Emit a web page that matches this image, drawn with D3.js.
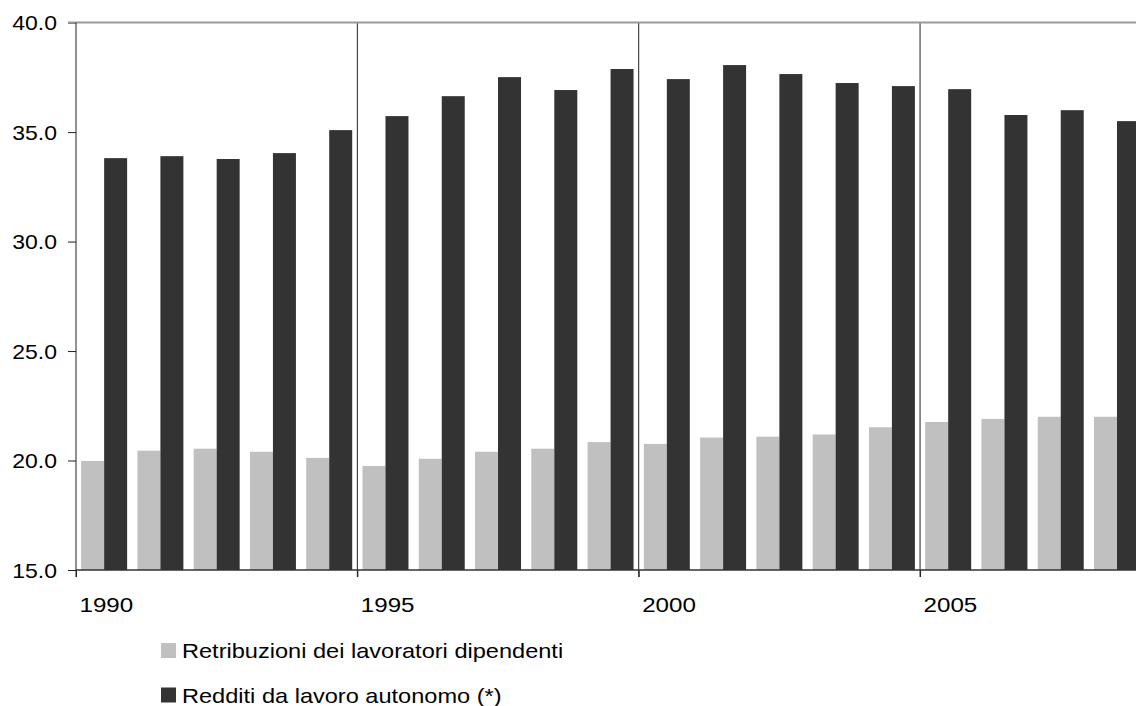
<!DOCTYPE html>
<html>
<head>
<meta charset="utf-8">
<script src="https://cdn.jsdelivr.net/npm/d3@7"></script>
<style>
  html, body { margin: 0; padding: 0; background: #fff; }
  svg { display: block; }
  text { font-family: "Liberation Sans", Arial, sans-serif; fill: #000; }
</style>
</head>
<body>
<svg id="chart" width="1136" height="706"></svg>
<script>
const years = ['1990','1991','1992','1993','1994','1995','1996','1997','1998','1999',
               '2000','2001','2002','2003','2004','2005','2006','2007','2008'];
const seriesNames = ['Retribuzioni dei lavoratori dipendenti', 'Redditi da lavoro autonomo (*)'];
const seriesColors = ['#c0c0c0', '#333333'];
const retribuzioni = [19.98, 20.45, 20.54, 20.40, 20.12, 19.75, 20.08, 20.40, 20.54, 20.84,
                      20.76, 21.05, 21.09, 21.19, 21.52, 21.76, 21.90, 22.00, 22.00];
const redditi = [33.81, 33.90, 33.77, 34.04, 35.09, 35.73, 36.64, 37.51, 36.92, 37.88,
                 37.42, 38.06, 37.65, 37.24, 37.10, 36.96, 35.78, 36.00, 35.50];
const yTicks = [15, 20, 25, 30, 35, 40];
const xTickYears = [1990, 1995, 2000, 2005];

(function () {
const svg = d3.select('#chart');
const mLeft = 76, mTop = 22.6, mBottom = 570;
const step = 56.27;
const mRight = mLeft + years.length * step;
const SX = 1.15;

const y = d3.scaleLinear().domain([15, 40]).range([mBottom, mTop]);
const xYear = d3.scaleLinear().domain([1990, 1990 + years.length]).range([mLeft, mRight]);
const x0 = d3.scaleBand().domain(years).range([mLeft, mRight]).paddingInner(0.183).paddingOuter(0.0915);
const x1 = d3.scaleBand().domain([0, 1]).range([0, x0.bandwidth()]);

const data = years.map((yr, i) => ({ year: yr, values: [retribuzioni[i], redditi[i]] }));

// bars
const groups = svg.append('g').selectAll('g').data(data).join('g')
  .attr('transform', d => `translate(${x0(d.year)},0)`);
groups.selectAll('rect').data(d => d.values.map((v, k) => ({ v, k }))).join('rect')
  .attr('x', d => x1(d.k))
  .attr('width', x1.bandwidth())
  .attr('y', d => y(d.v))
  .attr('height', d => y(15) - y(d.v))
  .attr('fill', d => seriesColors[d.k]);

// vertical separators at 1995, 2000, 2005
svg.append('g').selectAll('line').data(xTickYears.slice(1)).join('line')
  .attr('x1', d => xYear(d)).attr('x2', d => xYear(d))
  .attr('y1', y(40)).attr('y2', mBottom + 7)
  .attr('stroke', '#222').attr('stroke-width', 1);

// y axis
const yAxis = svg.append('g').attr('transform', `translate(${mLeft},0)`)
  .call(d3.axisLeft(y).tickValues(yTicks).tickFormat(d3.format('.1f')).tickSize(8));
yAxis.select('.domain').remove();
yAxis.selectAll('.tick line').attr('stroke', '#222');
yAxis.selectAll('.tick text')
  .attr('x', 0).attr('dy', null).attr('y', 0)
  .attr('transform', `translate(-19,7) scale(${SX},1)`)
  .attr('text-anchor', 'end')
  .attr('fill', '#000')
  .style('font-size', '20px')
  .style('font-family', '"Liberation Sans", Arial, sans-serif');

// top gray line at 40
svg.append('line')
  .attr('x1', mLeft - 8).attr('x2', 1136)
  .attr('y1', y(40)).attr('y2', y(40))
  .attr('stroke', '#999').attr('stroke-width', 2);

// left axis line
svg.append('line')
  .attr('x1', mLeft).attr('x2', mLeft)
  .attr('y1', y(40)).attr('y2', mBottom + 7)
  .attr('stroke', '#222').attr('stroke-width', 1);

// x axis
const xAxis = svg.append('g').attr('transform', `translate(0,${mBottom})`)
  .call(d3.axisBottom(xYear).tickValues(xTickYears).tickFormat(d3.format('d')).tickSize(7));
xAxis.select('.domain').remove();
xAxis.selectAll('.tick line').attr('stroke', '#222');
xAxis.selectAll('.tick text')
  .attr('x', 0).attr('y', 0).attr('dy', null)
  .attr('transform', `translate(3,42) scale(${SX},1)`)
  .attr('text-anchor', 'start')
  .attr('fill', '#000')
  .style('font-size', '21px')
  .style('font-family', '"Liberation Sans", Arial, sans-serif');
svg.append('line')
  .attr('x1', mLeft).attr('x2', 1136)
  .attr('y1', mBottom).attr('y2', mBottom)
  .attr('stroke', '#333').attr('stroke-width', 1.3);

// legend
const legend = svg.append('g').selectAll('g').data(seriesNames).join('g')
  .attr('transform', (d, i) => `translate(161,${643 + i * 44.5})`);
legend.append('rect')
  .attr('width', 15).attr('height', 15)
  .attr('fill', (d, i) => seriesColors[i]);
legend.append('text')
  .attr('transform', `translate(21,15) scale(${SX},1)`)
  .style('font-size', '20.5px')
  .text(d => d);
})();
</script>
</body>
</html>
